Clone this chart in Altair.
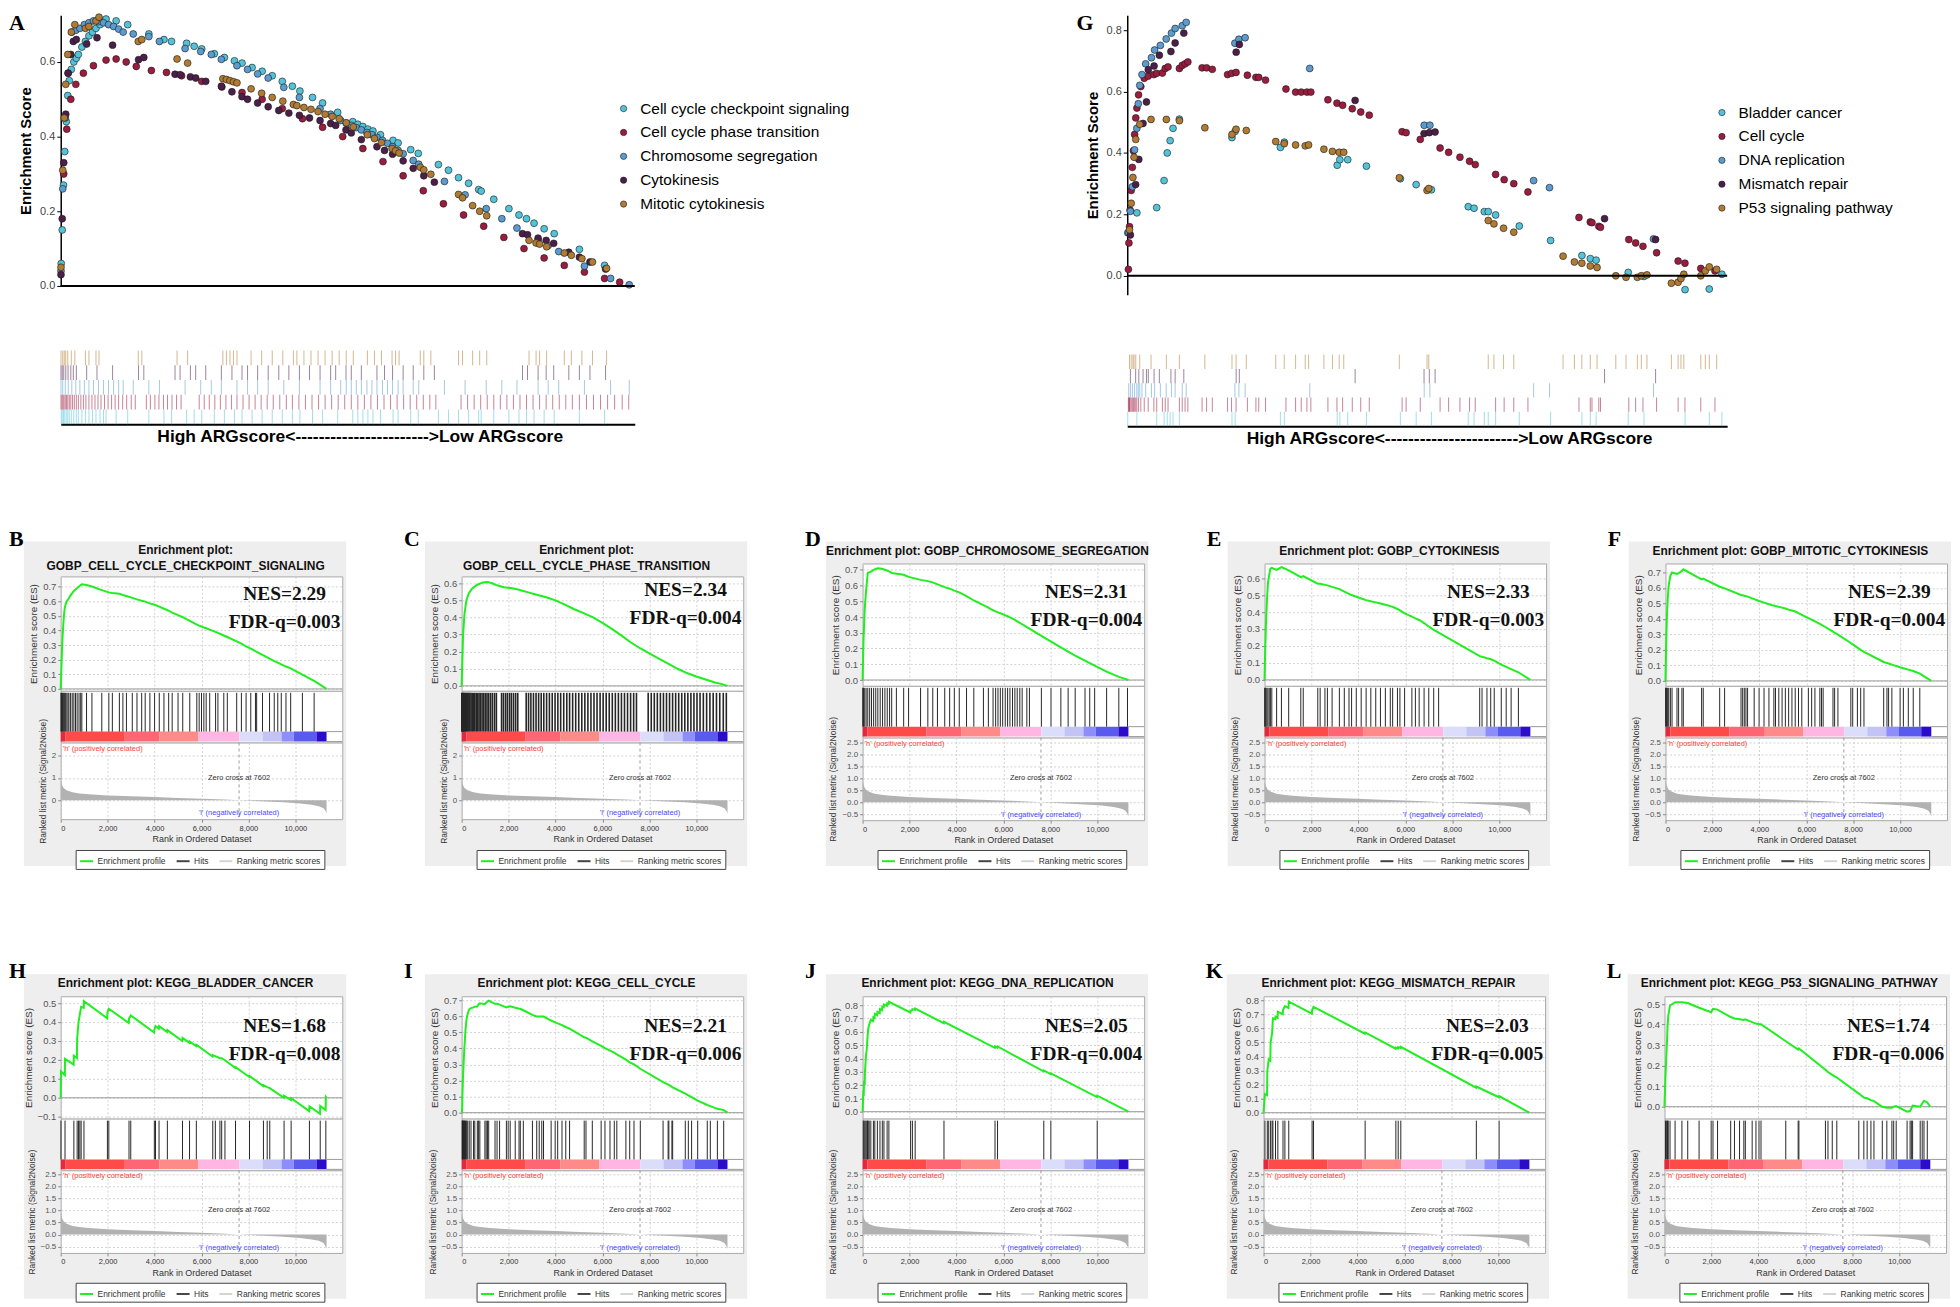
import altair as alt
import pandas as pd

# ============================ DATA ============================
N_GENES = 11330
ZERO_CROSS = 7602

go_names = ["Cell cycle checkpoint signaling", "Cell cycle phase transition",
            "Chromosome segregation", "Cytokinesis", "Mitotic cytokinesis"]
kegg_names = ["Bladder cancer", "Cell cycle", "DNA replication", "Mismatch repair",
              "P53 signaling pathway"]

# --- GO sets: rank of each hit and running enrichment score there ---
checkpoint_rank = [10, 30, 55, 80, 110, 140, 170, 210, 260, 310, 350, 420, 490, 560, 630, 700, 780, 850, 900, 1100,
                   1330, 1750, 2050, 2200, 2500, 2650, 2800, 3050, 3250, 3450, 3600, 3800, 4000, 4200, 4400, 4600,
                   4750, 5000, 5200, 5500, 5800, 5900, 6000, 6100, 6200, 6350, 6600, 6700, 6950, 7100, 7500, 7700,
                   7900, 8100, 8300, 8350, 8600, 8900, 9100, 9250, 9400, 9600, 9800, 10300, 10800]
checkpoint_es = [0.06, 0.15, 0.27, 0.36, 0.44, 0.51, 0.55, 0.58, 0.60, 0.61, 0.62, 0.64, 0.655, 0.67, 0.68, 0.69, 0.70,
                 0.71, 0.715, 0.71, 0.70, 0.675, 0.66, 0.655, 0.65, 0.642, 0.635, 0.622, 0.612, 0.603, 0.597, 0.585,
                 0.575, 0.563, 0.548, 0.535, 0.522, 0.505, 0.49, 0.465, 0.44, 0.433, 0.427, 0.42, 0.415, 0.405, 0.39,
                 0.383, 0.365, 0.355, 0.325, 0.31, 0.29, 0.275, 0.258, 0.254, 0.232, 0.207, 0.19, 0.18, 0.168, 0.153,
                 0.14, 0.098, 0.055]

phase_rank = [60, 120, 200, 300, 450, 650, 900, 1100, 1300, 1500, 1800, 2100, 2400, 2800, 3200, 3600, 4000, 4400,
              4800, 5200, 5600, 6000, 6400, 6800, 7200, 7600, 8000, 8400, 8800, 9200, 9600, 10000, 10400, 10800, 11100]
phase_es = [0.30, 0.42, 0.50, 0.54, 0.57, 0.59, 0.605, 0.608, 0.60, 0.588, 0.577, 0.572, 0.563, 0.548, 0.533, 0.518,
            0.50, 0.475, 0.448, 0.425, 0.40, 0.368, 0.333, 0.295, 0.255, 0.22, 0.19, 0.16, 0.13, 0.10, 0.075, 0.055,
            0.037, 0.02, 0.01]
phase_hits = [5, 25, 45, 65, 90, 115, 140, 170, 200, 235, 270, 310, 350, 400, 450, 500, 560, 620, 680, 740, 800, 870,
              940, 1010, 1080, 1150, 1230, 1310, 1400, 1480, 1700, 1780, 1870, 1950, 2040, 2120, 2210, 2300, 2390,
              2750, 2850, 2950, 3060, 3170, 3280, 3390, 3500, 3620, 3740, 3860, 3980, 4100, 4220, 4350, 4480, 4600,
              4730, 4860, 4990, 5120, 5250, 5380, 5510, 5640, 5770, 5900, 6030, 6160, 6290, 6420, 6550, 6680, 6810,
              6940, 7070, 7200, 7330, 7450, 7950, 8080, 8210, 8340, 8470, 8600, 8730, 8860, 8990, 9120, 9250, 9380,
              9510, 9640, 9770, 9900, 10030, 10160, 10300, 10440, 10580, 10720, 10860, 11000, 11150, 11280]

chromseg_rank = [5, 40, 90, 150, 220, 300, 380, 470, 560, 650, 750, 850, 950, 1050, 1150, 1240, 1440, 1750, 1960, 2470,
                 2780, 2990, 3190, 3500, 3710, 3910, 4120, 4430, 4740, 5150, 5360, 5560, 5670, 5770, 5870, 5970, 6080,
                 6180, 6280, 6390, 6490, 6590, 6700, 6800, 7000, 7110, 7620, 8030, 8450, 8760, 9060, 9480, 9680, 9890,
                 10400, 10920, 11290]
chromseg_es = [0.04, 0.26, 0.45, 0.57, 0.68, 0.685, 0.69, 0.70, 0.705, 0.71, 0.708, 0.705, 0.70, 0.695, 0.688, 0.68,
               0.675, 0.668, 0.655, 0.636, 0.628, 0.62, 0.607, 0.59, 0.58, 0.568, 0.557, 0.532, 0.505, 0.475, 0.46,
               0.443, 0.436, 0.43, 0.424, 0.418, 0.411, 0.405, 0.398, 0.39, 0.382, 0.373, 0.363, 0.354, 0.336, 0.326,
               0.28, 0.244, 0.207, 0.18, 0.155, 0.123, 0.108, 0.092, 0.053, 0.02, 0.003]

cytok_rank = [5, 30, 60, 100, 145, 200, 250, 310, 515, 720, 1030, 1545, 1650, 2270, 2370, 2575, 2680, 2880, 3190, 3400,
              3600, 3710, 3910, 4120, 4330, 4530, 4740, 4940, 5150, 5360, 5460, 5665, 5770, 5970, 6280, 6430, 6590,
              6800, 7000, 7210, 7420, 9170, 9270, 9480, 9640, 9790, 10090, 10300, 10510, 10820]
cytok_es = [0.03, 0.18, 0.33, 0.46, 0.57, 0.62, 0.655, 0.66, 0.648, 0.665, 0.645, 0.606, 0.612, 0.567, 0.566, 0.56,
            0.557, 0.548, 0.535, 0.52, 0.507, 0.50, 0.49, 0.48, 0.47, 0.463, 0.457, 0.45, 0.443, 0.435, 0.43, 0.418,
            0.41, 0.392, 0.373, 0.363, 0.353, 0.335, 0.315, 0.295, 0.278, 0.14, 0.137, 0.128, 0.122, 0.114, 0.09,
            0.077, 0.064, 0.045]

mitotic_rank = [5, 40, 70, 100, 140, 210, 280, 490, 560, 700, 760, 1540, 1610, 2310, 2520, 3220, 3290, 3360, 3430,
                3500, 3780, 3990, 4200, 4410, 4620, 4690, 4830, 4970, 5110, 5250, 5390, 5530, 5670, 5810, 6090, 6230,
                6370, 6580, 6650, 6720, 7140, 7210, 7350, 7900, 7980, 8180, 8320, 8460, 9300, 9440, 9510, 9650, 10000,
                10140, 10350, 10560, 10840]
mitotic_es = [0.05, 0.31, 0.45, 0.54, 0.62, 0.68, 0.70, 0.69, 0.695, 0.71, 0.72, 0.655, 0.66, 0.608, 0.597, 0.555,
              0.553, 0.55, 0.547, 0.544, 0.528, 0.516, 0.505, 0.495, 0.486, 0.483, 0.478, 0.473, 0.467, 0.46, 0.454,
              0.448, 0.437, 0.426, 0.405, 0.395, 0.384, 0.368, 0.362, 0.356, 0.318, 0.311, 0.299, 0.245, 0.236, 0.215,
              0.20, 0.188, 0.122, 0.115, 0.112, 0.105, 0.088, 0.082, 0.073, 0.064, 0.047]

# --- KEGG sets: hits (rank, ES after the hit) and, where the steps are visible, the running-sum path ---
bladder_rank = [10, 183, 560, 700, 760, 815, 870, 990, 1990, 2050, 2910, 2985, 3990, 4040, 4190, 4545, 5190, 5490,
                5780, 6480, 6590, 6785, 6860, 7000, 7450, 8045, 8640, 8800, 8910, 9520, 9820, 10600, 11060, 11300]
bladder_es = [0.14, 0.205, 0.222, 0.31, 0.40, 0.44, 0.48, 0.51, 0.45, 0.47, 0.418, 0.435, 0.36, 0.378, 0.378, 0.357,
              0.316, 0.297, 0.28, 0.225, 0.22, 0.209, 0.209, 0.198, 0.162, 0.115, 0.066, 0.056, 0.051, 0.011, -0.002,
              -0.045, -0.043, 0.005]
bladder_curve_rank = [0, 10, 175, 183, 550, 560, 690, 700, 760, 815, 870, 980, 990, 1980, 1990, 2050, 2900, 2910,
                      2985, 3980, 3990, 4040, 4180, 4190, 4535, 4545, 5180, 5190, 5480, 5490, 5770, 5780, 6470, 6480,
                      6590, 6785, 6860, 7000, 7440, 7450, 8035, 8045, 8630, 8640, 8800, 8910, 9510, 9520, 9810, 9820,
                      10590, 10600, 11050, 11060, 11290, 11300]
bladder_curve_es = [0.0, 0.14, 0.12, 0.205, 0.175, 0.222, 0.21, 0.31, 0.40, 0.44, 0.48, 0.475, 0.51, 0.42, 0.45, 0.47,
                    0.395, 0.418, 0.435, 0.345, 0.36, 0.378, 0.365, 0.378, 0.347, 0.357, 0.30, 0.316, 0.29, 0.297,
                    0.273, 0.28, 0.218, 0.225, 0.22, 0.209, 0.209, 0.198, 0.158, 0.162, 0.11, 0.115, 0.062, 0.066,
                    0.056, 0.051, 0.0, 0.011, -0.012, -0.002, -0.07, -0.045, -0.085, -0.043, -0.065, 0.005]

cellcycle_rank = [22, 32, 43, 54, 75, 97, 118, 140, 162, 183, 215, 258, 323, 398, 506, 560, 668, 722, 775, 991, 1045,
                  1099, 1152, 1422, 1508, 1616, 1906, 1982, 2068, 2283, 2445, 2499, 2628, 3016, 3199, 3306, 3414, 3489,
                  3813, 3985, 4093, 4276, 4437, 4599, 5223, 5299, 5568, 5945, 6107, 6322, 6505, 6613, 7000, 7162, 7345,
                  7614, 8584, 8799, 8831, 8961, 8993, 9531, 9661, 9800, 10059, 10468, 10598, 10899, 11168]
cellcycle_es = [0.021, 0.107, 0.16, 0.214, 0.278, 0.353, 0.407, 0.46, 0.514, 0.546, 0.589, 0.616, 0.643, 0.65, 0.655,
                0.659, 0.66, 0.675, 0.68, 0.675, 0.685, 0.69, 0.696, 0.677, 0.677, 0.672, 0.655, 0.659, 0.662, 0.653,
                0.646, 0.646, 0.637, 0.608, 0.598, 0.598, 0.598, 0.598, 0.573, 0.562, 0.555, 0.544, 0.533, 0.523,
                0.469, 0.466, 0.444, 0.416, 0.402, 0.386, 0.373, 0.362, 0.33, 0.313, 0.30, 0.273, 0.19, 0.175, 0.173,
                0.161, 0.158, 0.118, 0.107, 0.096, 0.075, 0.048, 0.041, 0.024, 0.016]

dna_rank = [28, 60, 98, 140, 182, 210, 238, 280, 350, 460, 520, 630, 740, 840, 910, 1045, 1120, 2046, 2122, 2240,
            3468, 5643, 5751, 7722, 8024, 10000]
dna_es = [0.14, 0.21, 0.29, 0.41, 0.48, 0.56, 0.62, 0.655, 0.69, 0.71, 0.735, 0.75, 0.771, 0.79, 0.805, 0.814, 0.825,
          0.757, 0.77, 0.775, 0.675, 0.49, 0.49, 0.31, 0.287, 0.12]
dna_curve_rank = [0, 28, 50, 60, 90, 98, 140, 182, 210, 238, 280, 350, 450, 460, 510, 520, 620, 630, 730, 740, 830,
                  840, 900, 910, 1035, 1045, 1110, 1120, 2036, 2046, 2112, 2122, 2230, 2240, 3458, 3468, 5633, 5643,
                  5741, 5751, 7712, 7722, 8014, 8024, 9990, 10000, 11330]
dna_curve_es = [0.0, 0.14, 0.135, 0.21, 0.2, 0.29, 0.41, 0.48, 0.56, 0.62, 0.655, 0.69, 0.68, 0.71, 0.705, 0.735,
                0.725, 0.75, 0.74, 0.771, 0.763, 0.79, 0.785, 0.805, 0.795, 0.814, 0.81, 0.825, 0.745, 0.757, 0.763,
                0.77, 0.765, 0.775, 0.665, 0.675, 0.48, 0.49, 0.481, 0.49, 0.303, 0.31, 0.282, 0.287, 0.11, 0.12, 0.0]

mmr_rank = [60, 160, 220, 300, 365, 400, 510, 610, 830, 910, 1075, 2070, 2130, 4330, 5640, 5740, 5850, 9070, 10040]
mmr_es = [0.133, 0.297, 0.379, 0.496, 0.566, 0.671, 0.683, 0.718, 0.73, 0.758, 0.79, 0.728, 0.753, 0.571, 0.463,
          0.466, 0.468, 0.186, 0.118]
mmr_curve_rank = [0, 60, 150, 160, 220, 290, 300, 365, 400, 500, 510, 600, 610, 820, 830, 910, 1065, 1075, 2060, 2070,
                  2130, 4320, 4330, 5630, 5640, 5730, 5740, 5840, 5850, 9060, 9070, 10030, 10040, 11330]
mmr_curve_es = [0.0, 0.133, 0.125, 0.297, 0.379, 0.37, 0.496, 0.566, 0.671, 0.665, 0.683, 0.675, 0.718, 0.70, 0.73,
                0.758, 0.745, 0.79, 0.705, 0.728, 0.753, 0.562, 0.571, 0.455, 0.463, 0.457, 0.466, 0.459, 0.468,
                0.178, 0.186, 0.11, 0.118, 0.0]

p53_rank = [43, 75, 108, 129, 162, 237, 452, 743, 991, 1475, 1990, 2068, 2262, 2822, 2983, 3199, 3382, 3446, 3737,
            3899, 4028, 4114, 5170, 5697, 5730, 6860, 6968, 7151, 7345, 8282, 8497, 8638, 8799, 8928, 9284, 9478,
            9693, 9769, 9876, 10340, 10468, 10522, 10576, 10899, 10985, 11061, 11201]
p53_es = [0.15, 0.236, 0.32, 0.386, 0.444, 0.493, 0.509, 0.509, 0.505, 0.482, 0.46, 0.477, 0.473, 0.437, 0.43, 0.426,
          0.423, 0.426, 0.412, 0.405, 0.402, 0.402, 0.319, 0.278, 0.284, 0.18, 0.169, 0.155, 0.142, 0.064, 0.045,
          0.041, 0.032, 0.027, 0.0, -0.005, -0.005, 0.0, 0.003, -0.024, -0.021, -0.009, 0.005, 0.0, 0.016, 0.029,
          0.021]

# --- ranked list metric (Signal2Noise), shared by all GSEA panels ---
metric_rank = [0, 50, 120, 250, 500, 800, 1200, 2000, 3000, 4000, 5000, 6000, 7000, 7602, 8500, 9500, 10200, 10700,
               11000, 11200, 11300, 11330]
metric_val = [0.9, 0.7, 0.55, 0.45, 0.36, 0.31, 0.27, 0.22, 0.18, 0.145, 0.11, 0.075, 0.035, 0.0, -0.04, -0.09,
              -0.14, -0.2, -0.26, -0.35, -0.5, -0.6]

# --- colour bar segments (rank boundaries) ---
bar_start = [0, 210, 2730, 4200, 5870, 7620, 8600, 9410, 9930, 10900]
bar_end = [210, 2730, 4200, 5870, 7620, 8600, 9410, 9930, 10900, 11330]

# --- statistics and titles ---
go_nes = ["2.29", "2.34", "2.31", "2.33", "2.39"]
go_fdr = ["0.003", "0.004", "0.004", "0.003", "0.004"]
kegg_nes = ["1.68", "2.21", "2.05", "2.03", "1.74"]
kegg_fdr = ["0.008", "0.006", "0.004", "0.005", "0.006"]
go_letters = ["B", "C", "D", "E", "F"]
kegg_letters = ["H", "I", "J", "K", "L"]
go_titles = [["Enrichment plot:", "GOBP_CELL_CYCLE_CHECKPOINT_SIGNALING"],
             ["Enrichment plot:", "GOBP_CELL_CYCLE_PHASE_TRANSITION"],
             ["Enrichment plot: GOBP_CHROMOSOME_SEGREGATION"],
             ["Enrichment plot: GOBP_CYTOKINESIS"],
             ["Enrichment plot: GOBP_MITOTIC_CYTOKINESIS"]]
kegg_titles = [["Enrichment plot: KEGG_BLADDER_CANCER"], ["Enrichment plot: KEGG_CELL_CYCLE"],
               ["Enrichment plot: KEGG_DNA_REPLICATION"], ["Enrichment plot: KEGG_MISMATCH_REPAIR"],
               ["Enrichment plot: KEGG_P53_SIGNALING_PATHWAY"]]
rug_title = "High ARGscore<----------------------->Low ARGscore"

# tick labels
rank_ticks = [0, 2000, 4000, 6000, 8000, 10000]
ticks_07 = [0.0, 0.1, 0.2, 0.3, 0.4, 0.5, 0.6, 0.7]
ticks_06 = [0.0, 0.1, 0.2, 0.3, 0.4, 0.5, 0.6]
ticks_08 = [0.0, 0.1, 0.2, 0.3, 0.4, 0.5, 0.6, 0.7, 0.8]
ticks_h = [-0.1, 0.0, 0.1, 0.2, 0.3, 0.4, 0.5]
ticks_05 = [0.0, 0.1, 0.2, 0.3, 0.4, 0.5]
metric_ticks_a = [0, 1, 2]
metric_ticks_b = [-0.5, 0.0, 0.5, 1.0, 1.5, 2.0, 2.5]
top_ticks_a = [0.0, 0.2, 0.4, 0.6]
top_ticks_g = [0.0, 0.2, 0.4, 0.6, 0.8]

# ============================ STYLE ============================
SANS = "Liberation Sans"
SERIF = "Liberation Serif"
SET_COLORS = ["#52c3d8", "#9b1c3f", "#5b9bd0", "#4b1f4a", "#b07b33"]
GREEN = "#1fee1f"
BAR_COLORS = ["#e5283d", "#ff4a4a", "#ff6675", "#ff8a8a", "#ffb6e2", "#dcdcfb", "#c3c3f6", "#8d8dfb", "#5a5aee",
              "#2b0ccb"]
LEG_NAMES = ["Enrichment profile", "Hits", "Ranking metric scores"]
LEG_COLORS = [GREEN, "#444444", "#d4d4d4"]
GRID = "#d2d2d2"
X_MAX = 12000
TOP_X_MAX = 11400
W = 283
one = pd.DataFrame({"k": [0]})
bar_seg = ["s%d" % i for i in range(len(bar_start))]
bar_df = pd.DataFrame({"start": bar_start, "end": bar_end, "seg": bar_seg})
metric_df = pd.DataFrame({"rank": metric_rank, "metric": metric_val})
xs_small = alt.Scale(domain=[0, X_MAX], nice=False, zero=False)
panel_view = alt.ViewBackground(fill="white", stroke="#a8a8a8", strokeWidth=1)


def curve_frame(ranks, es):
    r = list(ranks)
    e = list(es)
    if r[0] > 0:
        r = [0] + r
        e = [0.0] + e
    if r[-1] < N_GENES:
        r = r + [N_GENES]
        e = e + [0.0]
    return pd.DataFrame({"rank": r, "es": e})


def text_layer(txt, x, y, **kw):
    return alt.Chart(one).mark_text(**kw).encode(x=alt.value(x), y=alt.value(y), text=alt.value(txt))


def header(letter, letter_x, title_lines, hh):
    layers = [alt.Chart(one).mark_rect(color="#eeeeee").encode(
        x=alt.value(-37), x2=alt.value(W + 4), y=alt.value(-21), y2=alt.value(305))]
    if len(title_lines) == 2:
        ys = [-13, 4]
    else:
        ys = [-12]
    for t, yy in zip(title_lines, ys):
        layers.append(text_layer(t, W / 2 - 16, yy, font=SANS, fontSize=12, fontWeight="bold",
                                 align="center", baseline="middle", color="#111"))
    layers.append(text_layer(letter, letter_x, -34, font=SERIF, fontSize=22, fontWeight="bold",
                             align="left", baseline="top", color="black"))
    return alt.layer(*layers).properties(width=W, height=hh)


def es_chart(curve_df, es_dom, es_ticks, nes, fdr, nes_y, h):
    ax_x = alt.Axis(values=rank_ticks, labels=False, ticks=False, domain=False, title=None, grid=True,
                    gridDash=[2, 2], gridColor=GRID)
    ax_y = alt.Axis(values=es_ticks, format=".1f", title="Enrichment score (ES)", titleFontSize=10,
                    titleFontWeight="normal", titleColor="#333", titleFont=SANS, labelFont=SANS,
                    labelFontSize=9.5, labelColor="#555", tickSize=3, tickColor="#888", domain=False, grid=True,
                    gridDash=[2, 2], gridColor=GRID, titlePadding=4, labelPadding=2)
    ys = alt.Scale(domain=es_dom, nice=False, zero=False)
    zero = alt.Chart(pd.DataFrame({"v": [0.0]})).mark_rule(color="#9a9a9a", strokeWidth=1).encode(
        y=alt.Y("v:Q", scale=ys, axis=ax_y))
    line = alt.Chart(curve_df).mark_line(color=GREEN, strokeWidth=2).encode(
        x=alt.X("rank:Q", scale=xs_small, axis=ax_x), y=alt.Y("es:Q", scale=ys, axis=ax_y))
    t1 = text_layer("NES=" + nes, W * 0.795, nes_y, font=SERIF, fontSize=19.5, fontWeight="bold",
                    align="center", baseline="middle", color="#111")
    t2 = text_layer("FDR-q=" + fdr, W * 0.795, nes_y + 28, font=SERIF, fontSize=19.5, fontWeight="bold",
                    align="center", baseline="middle", color="#111")
    return alt.layer(zero, line, t1, t2).properties(width=W, height=h, view=panel_view)


def hits_chart(hits, tick_w):
    bars = alt.Chart(bar_df).mark_rect().encode(
        x=alt.X("start:Q", scale=xs_small, axis=None), x2="end:Q",
        y=alt.value(41), y2=alt.value(51),
        fill=alt.Fill("seg:N", scale=alt.Scale(domain=bar_seg, range=BAR_COLORS), legend=None))
    ticks = alt.Chart(pd.DataFrame({"rank": hits})).mark_rule(color="#262626", strokeWidth=tick_w).encode(
        x=alt.X("rank:Q", scale=xs_small, axis=None), y=alt.value(2), y2=alt.value(41))
    ext_df = pd.DataFrame({"a": [N_GENES], "b": [X_MAX]})
    ext1 = alt.Chart(ext_df).mark_rule(color="#999999").encode(
        x=alt.X("a:Q", scale=xs_small, axis=None), x2="b:Q", y=alt.value(41))
    ext2 = alt.Chart(ext_df).mark_rule(color="#999999").encode(
        x=alt.X("a:Q", scale=xs_small, axis=None), x2="b:Q", y=alt.value(51))
    return alt.layer(bars, ticks, ext1, ext2).properties(width=W, height=52, view=panel_view)


def metric_chart(h, dom, ticks, fmt, leg_y):
    ax_x = alt.Axis(values=rank_ticks, format=",d", labelFontSize=7.5, labelColor="#333", labelFont=SANS,
                    tickSize=3, tickColor="#888", domain=False, grid=True, gridDash=[2, 2], gridColor=GRID,
                    title="Rank in Ordered Dataset", titleFontSize=9, titleFontWeight="normal", titleColor="#333",
                    titleFont=SANS, titlePadding=3, labelPadding=2)
    ax_y = alt.Axis(values=ticks, format=fmt, labelFontSize=8, labelColor="#555", labelFont=SANS, tickSize=3,
                    tickColor="#888", domain=False, grid=True, gridDash=[2, 2], gridColor=GRID,
                    title="Ranked list metric (Signal2Noise)", titleFontSize=8.5, titleFontWeight="normal",
                    titleColor="#333", titleFont=SANS, titlePadding=4, labelPadding=2)
    ys = alt.Scale(domain=dom, nice=False, zero=False)
    area = alt.Chart(metric_df).mark_area(color="#b2b2b2").encode(
        x=alt.X("rank:Q", scale=xs_small, axis=ax_x), y=alt.Y("metric:Q", scale=ys, axis=ax_y),
        y2=alt.datum(0))
    zx = ZERO_CROSS / X_MAX * W
    zc = alt.Chart(one).mark_rule(color="#9a9a9a", strokeDash=[3, 3]).encode(
        x=alt.value(zx), y=alt.value(0), y2=alt.value(h))

    def ypix(v):
        return h * (dom[1] - v) / (dom[1] - dom[0])

    th = text_layer("'h' (positively correlated)", 2, 6, font=SANS, fontSize=7.5, color="#ff3c3c",
                    align="left", baseline="middle")
    tz = text_layer("Zero cross at 7602", zx, ypix(1.0), font=SANS, fontSize=7.5, color="#333",
                    align="center", baseline="middle")
    tl = text_layer("'l' (negatively correlated)", zx, ypix(-0.55), font=SANS, fontSize=7.5, color="#4a4aff",
                    align="center", baseline="middle")
    leg = alt.Legend(title=None, orient="none", legendX=15, legendY=leg_y, direction="horizontal",
                     symbolType="stroke", symbolStrokeWidth=2, symbolSize=170, labelFontSize=8.5, labelFont=SANS,
                     labelColor="#333", strokeColor="#444", fillColor="white", padding=3, columnPadding=6,
                     labelOffset=3)
    leg_layer = alt.Chart(pd.DataFrame({"series": LEG_NAMES})).mark_rule(strokeWidth=2).encode(
        x=alt.value(0), y=alt.value(0), y2=alt.value(0),
        stroke=alt.Stroke("series:N", scale=alt.Scale(domain=LEG_NAMES, range=LEG_COLORS), legend=leg))
    return alt.layer(area, zc, th, tz, tl, leg_layer).properties(width=W, height=h, view=panel_view)


def gsea_panel(letter, letter_x, title_lines, curve_df, hits, es_dom, es_ticks, nes, fdr, nes_y,
               met_dom, met_ticks, met_fmt, tick_w):
    two = len(title_lines) == 2
    hh = 14 if two else 1
    es_h = 115 if two else 123
    met_h = 77 if two else 83
    # legend position is relative to the panel group (top of the header strip)
    return alt.vconcat(
        header(letter, letter_x, title_lines, hh),
        es_chart(curve_df, es_dom, es_ticks, nes, fdr, nes_y, es_h),
        hits_chart(hits, tick_w),
        metric_chart(met_h, met_dom, met_ticks, met_fmt, 289),
        spacing=0, bounds="flush")


def top_es(names, dots, dom, ticks, w, h, leg_x, leg_y, letter, letter_x, letter_y):
    rows = []
    for nm, (rk, es) in zip(names, dots):
        for r, e in zip(rk, es):
            rows.append({"set": nm, "rank": r, "es": e})
    df = pd.DataFrame(rows)
    ys = alt.Scale(domain=dom, nice=False, zero=False)
    xs = alt.Scale(domain=[0, TOP_X_MAX], nice=False, zero=False)
    ax_y = alt.Axis(values=ticks, format=".1f", title="Enrichment Score", titleFontSize=15, titleFont=SANS,
                    titleFontWeight="bold", titleColor="black", labelFontSize=11, labelFont=SANS,
                    labelColor="#444", tickColor="black", tickSize=4, domainColor="black", domainWidth=1.5,
                    grid=False, titlePadding=6, labelPadding=2)
    leg = alt.Legend(title=None, orient="none", legendX=leg_x, legendY=leg_y, labelFontSize=15.5, labelFont=SANS,
                     labelColor="black", symbolType="circle", symbolSize=40, symbolStrokeColor="#1a1a1a",
                     symbolStrokeWidth=0.6, rowPadding=7, labelOffset=9, padding=0, labelLimit=400)
    pts = alt.Chart(df).mark_point(filled=True, size=48, stroke="#1a1a1a", strokeWidth=0.6, opacity=1).encode(
        x=alt.X("rank:Q", scale=xs, axis=None), y=alt.Y("es:Q", scale=ys, axis=ax_y),
        fill=alt.Fill("set:N", scale=alt.Scale(domain=names, range=SET_COLORS), legend=leg))
    zero = alt.Chart(pd.DataFrame({"v": [0.0]})).mark_rule(color="black", strokeWidth=2).encode(
        y=alt.Y("v:Q", scale=ys, axis=ax_y))
    lt = text_layer(letter, letter_x, letter_y, font=SERIF, fontSize=22, fontWeight="bold", align="left",
                    baseline="top", color="black")
    return alt.layer(pts, zero, lt).properties(width=w, height=h)


def top_rug(names, hit_lists, w, h, title_dx):
    rows = []
    for nm, hl in zip(names, hit_lists):
        for r in hl:
            rows.append({"set": nm, "rank": r})
    df = pd.DataFrame(rows)
    order = list(reversed(names))
    xs = alt.Scale(domain=[0, TOP_X_MAX], nice=False, zero=False)
    ax = alt.Axis(labels=False, ticks=False, grid=False, domain=True, domainColor="black", domainWidth=2,
                  title=rug_title, titleFontSize=17.5, titleFontWeight="bold", titleFont=SANS,
                  titleColor="black", titlePadding=3, titleX=w / 2 + title_dx, titleAlign="center")
    return alt.Chart(df).mark_tick(thickness=1, size=h / 5, opacity=0.55).encode(
        x=alt.X("rank:Q", scale=xs, axis=ax),
        y=alt.Y("set:N", scale=alt.Scale(domain=order, paddingInner=0, paddingOuter=0), axis=None),
        color=alt.Color("set:N", scale=alt.Scale(domain=names, range=SET_COLORS), legend=None)
    ).properties(width=w, height=h)


def indep(c):
    return c.resolve_scale(fill="independent", stroke="independent", color="independent")


# ============================ ASSEMBLY ============================
go_dots = [(checkpoint_rank, checkpoint_es), (phase_rank, phase_es), (chromseg_rank, chromseg_es),
           (cytok_rank, cytok_es), (mitotic_rank, mitotic_es)]
go_hits = [checkpoint_rank, phase_hits, chromseg_rank, cytok_rank, mitotic_rank]
kegg_dots = [(bladder_rank, bladder_es), (cellcycle_rank, cellcycle_es), (dna_rank, dna_es),
             (mmr_rank, mmr_es), (p53_rank, p53_es)]
kegg_curves = [(bladder_curve_rank, bladder_curve_es), (cellcycle_rank, cellcycle_es),
               (dna_curve_rank, dna_curve_es), (mmr_curve_rank, mmr_curve_es), (p53_rank, p53_es)]
kegg_hits = [bladder_rank, cellcycle_rank, dna_rank, mmr_rank, p53_rank]

A_es = top_es(go_names, go_dots, [0.0, 0.725], top_ticks_a, 577, 272, 558, 86, "A", -52, -2)
A_rug = top_rug(go_names, go_hits, 577, 74, 12)
G_es = top_es(kegg_names, kegg_dots, [-0.062, 0.848], top_ticks_g, 603, 281, 590, 90, "G", -51, -2)
G_rug = top_rug(kegg_names, kegg_hits, 603, 72, 22)
A_panel = alt.vconcat(A_es, A_rug, spacing=58)
G_panel = alt.vconcat(G_es, G_rug, spacing=58)
top_row = indep(alt.hconcat(A_panel, G_panel, spacing=227))

go_es_dom = [[-0.013, 0.769], [-0.029, 0.64], [-0.037, 0.74], [-0.035, 0.686], [-0.032, 0.758]]
go_es_ticks = [ticks_07, ticks_06, ticks_07, ticks_06, ticks_07]
go_nes_y = [18, 14, 29, 29, 29]
letter_xs = [-52, -58, -58, -58, -58]
row2_panels = []
for i in range(5):
    two = len(go_titles[i]) == 2
    row2_panels.append(gsea_panel(
        go_letters[i], letter_xs[i], go_titles[i], curve_frame(*go_dots[i]), go_hits[i],
        go_es_dom[i], go_es_ticks[i], go_nes[i], go_fdr[i], go_nes_y[i],
        [-0.84, 2.58] if two else [-0.75, 2.71], metric_ticks_a if two else metric_ticks_b,
        "d" if two else ".1f", 1.6 if i == 1 else 1.0))
row2 = indep(alt.hconcat(*row2_panels, spacing=56))

kegg_es_dom = [[-0.11, 0.536], [-0.037, 0.724], [-0.052, 0.867], [-0.042, 0.828], [-0.058, 0.538]]
kegg_es_ticks = [ticks_h, ticks_07, ticks_08, ticks_08, ticks_05]
row3_panels = []
for i in range(5):
    row3_panels.append(gsea_panel(
        kegg_letters[i], letter_xs[i], kegg_titles[i], curve_frame(*kegg_curves[i]), kegg_hits[i],
        kegg_es_dom[i], kegg_es_ticks[i], kegg_nes[i], kegg_fdr[i], 30,
        [-0.76, 2.66], metric_ticks_b, ".1f", 1.0))
row3 = indep(alt.hconcat(*row3_panels, spacing=56))

rows23 = indep(alt.vconcat(row2, row3, spacing=90))
chart = indep(alt.vconcat(top_row, rows23, spacing=80)).properties(
    padding=0, background="white"
).configure(font=SANS).configure_view(stroke="transparent")

chart.save("out.html", embed_options={"renderer": "svg", "actions": False})
